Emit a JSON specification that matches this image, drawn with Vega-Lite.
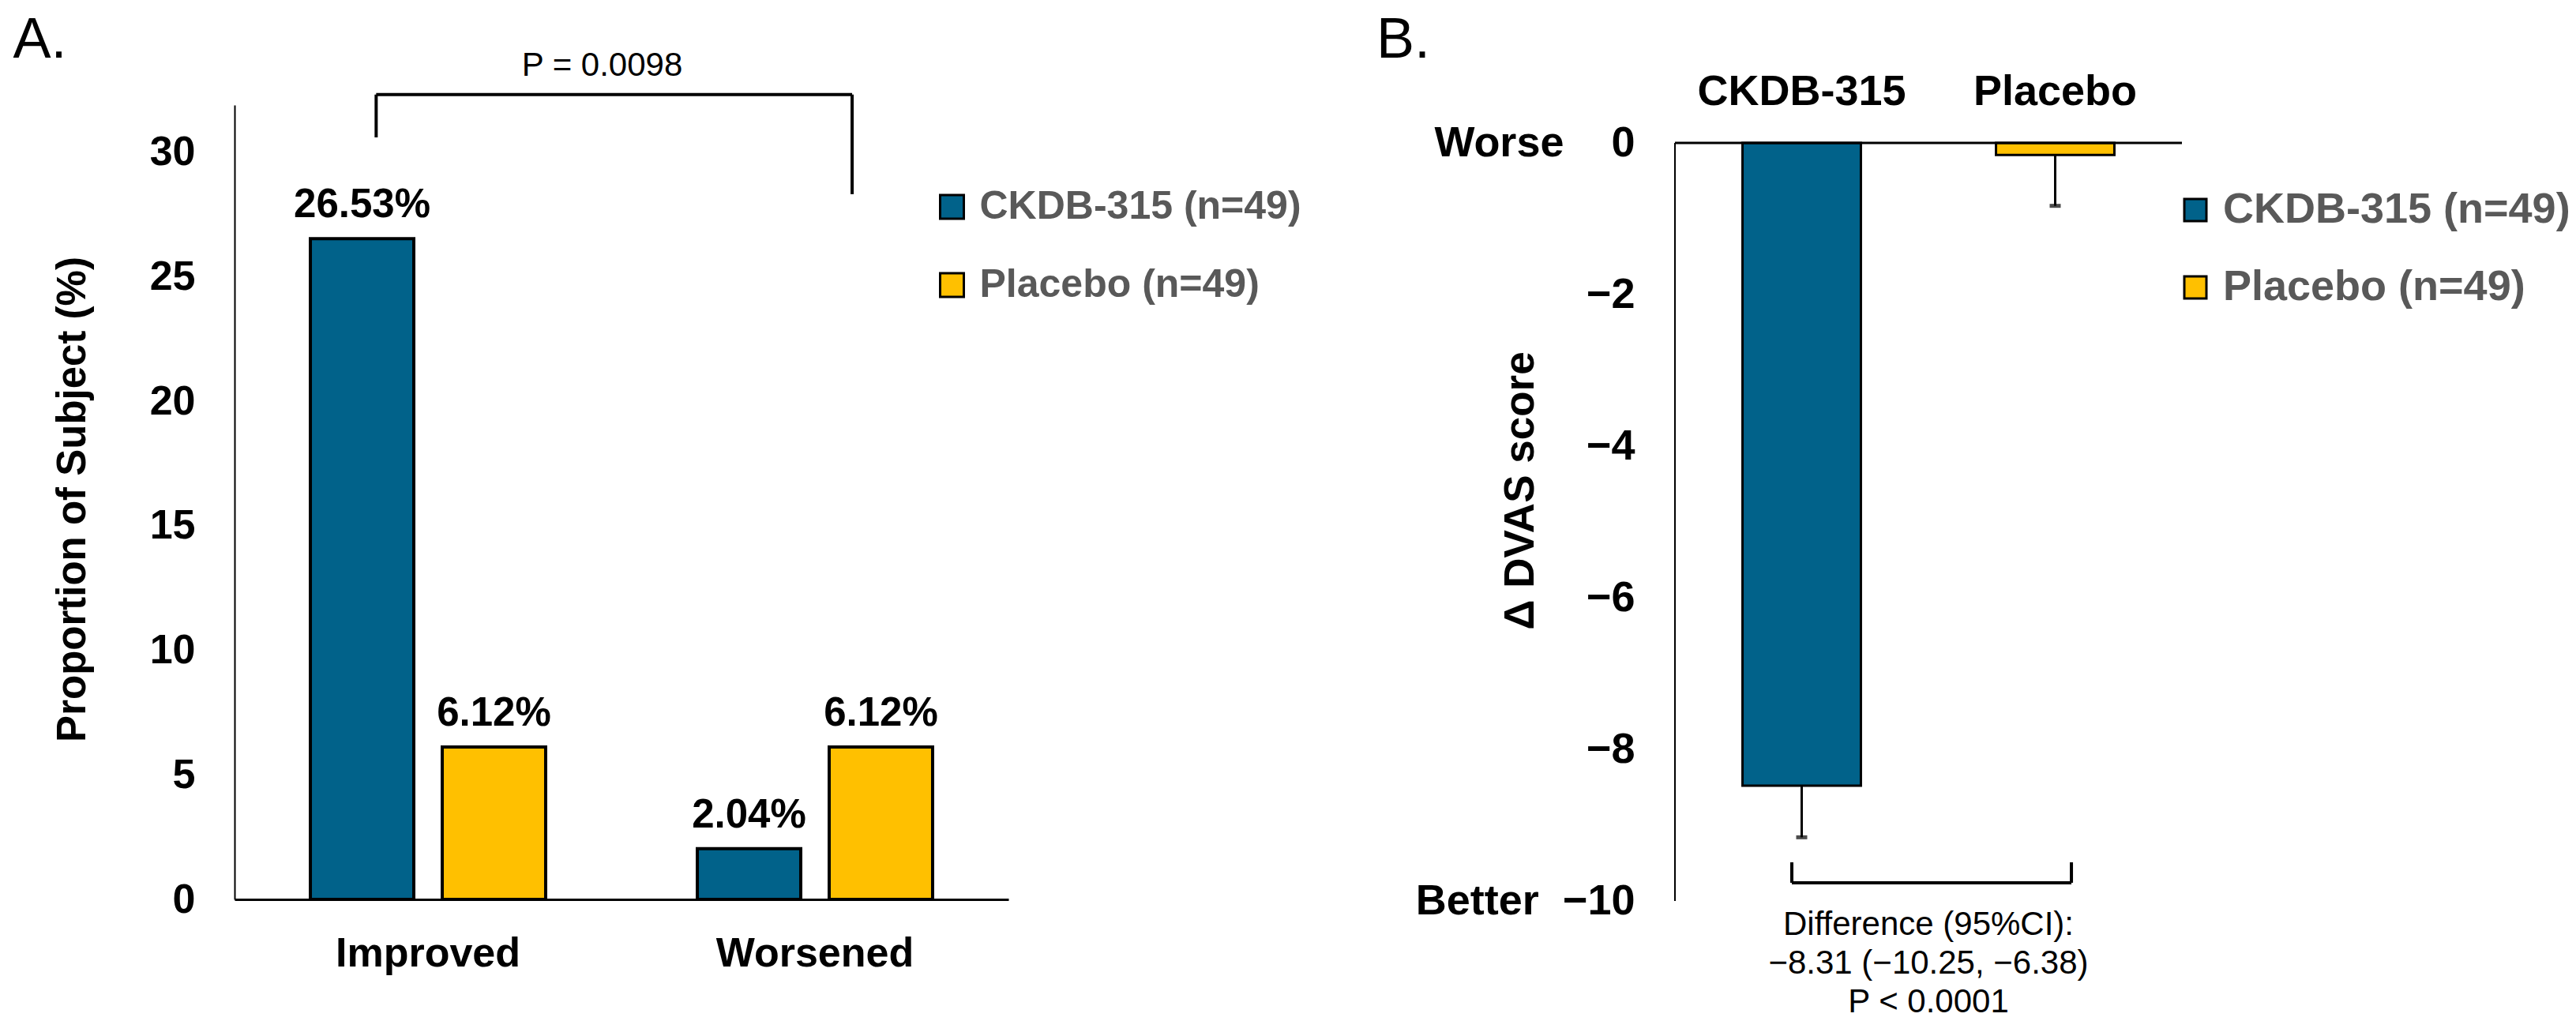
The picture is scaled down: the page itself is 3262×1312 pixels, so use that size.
{
  "$schema": "https://vega.github.io/schema/vega-lite/v6.json",
  "background": "white",
  "padding": {"left": 16, "top": 14, "right": 0, "bottom": 0},
  "config": {
    "font": "Liberation Sans",
    "view": {"stroke": null},
    "axis": {"grid": false, "ticks": false, "tickSize": 0, "labelLimit": 2000, "domainColor": "black", "labelColor": "black", "titleColor": "black", "labelFont": "Liberation Sans", "titleFont": "Liberation Sans", "labelFontWeight": "bold", "titleFontWeight": "bold"},
    "legend": {"labelLimit": 2000},
    "text": {"font": "Liberation Sans", "color": "black"}
  },
  "datasets": {
    "responders": [
      {"outcome": "Improved", "group": "CKDB-315", "pct": 26.53, "label": "26.53%"},
      {"outcome": "Improved", "group": "Placebo", "pct": 6.12, "label": "6.12%"},
      {"outcome": "Worsened", "group": "CKDB-315", "pct": 2.04, "label": "2.04%"},
      {"outcome": "Worsened", "group": "Placebo", "pct": 6.12, "label": "6.12%"}
    ],
    "dvas": [
      {"group": "CKDB-315", "mean": -8.48, "lower": -9.16},
      {"group": "Placebo", "mean": -0.16, "lower": -0.83}
    ]
  },
  "spacing": 93,
  "resolve": {"scale": {"fill": "independent"}, "legend": {"fill": "independent"}},
  "hconcat": [
    {
      "width": 980,
      "height": 1006,
      "resolve": {"scale": {"x": "independent"}},
      "layer": [
        {
          "data": {"name": "responders"},
          "encoding": {
            "x": {"field": "outcome", "type": "nominal", "sort": ["Improved", "Worsened"], "scale": {"paddingInner": 0, "paddingOuter": 0},
              "axis": {"title": null, "labelAngle": 0, "labelFontSize": 52, "labelPadding": 84, "labelBaseline": "alphabetic", "domainWidth": 3}},
            "xOffset": {"field": "group", "type": "nominal", "sort": ["CKDB-315", "Placebo"], "scale": {"paddingInner": 0.2156, "paddingOuter": 0.575}},
            "y": {"field": "pct", "type": "quantitative", "scale": {"domain": [0, 31.9], "nice": false},
              "axis": {"title": "Proportion of Subject (%)", "values": [0, 5, 10, 15, 20, 25, 30], "labelFontSize": 52, "labelPadding": 50, "domainWidth": 2, "titleFontSize": 51, "titleX": -189.5, "titleY": 499, "titleAngle": 270, "titleBaseline": "alphabetic", "titleAlign": "center"}}
          },
          "layer": [
            {
              "mark": {"type": "bar", "stroke": "black", "strokeWidth": 4},
              "encoding": {
                "fill": {"field": "group", "type": "nominal", "scale": {"domain": ["CKDB-315", "Placebo"], "range": ["#01628A", "#FFC000"]},
                  "legend": {"title": null, "orient": "none", "legendX": 883.5, "legendY": 104, "direction": "vertical", "symbolType": "square", "symbolSize": 900, "symbolStrokeColor": "black", "symbolStrokeWidth": 3, "labelFontSize": 50, "labelFontWeight": "bold", "labelColor": "#595959", "labelFont": "Liberation Sans", "labelOffset": 10, "labelLimit": 2000, "rowPadding": 49, "padding": 0, "labelExpr": "datum.label + ' (n=49)'",
                    "encode": {"symbols": {"update": {"stroke": {"value": "black"}, "strokeWidth": {"value": 3}}}}}
                }
              }
            },
            {
              "mark": {"type": "text", "baseline": "alphabetic", "align": "center", "dy": -27, "fontSize": 51, "fontWeight": "bold"},
              "encoding": {"text": {"field": "label"}}
            }
          ]
        },
        {
          "data": {"values": [{}]},
          "layer": [
            {
              "mark": {"type": "rule", "color": "black", "strokeWidth": 4},
              "encoding": {
                "x": {"datum": 0.183, "type": "quantitative", "scale": {"domain": [0, 1], "nice": false}, "axis": null},
                "y": {"datum": 30.6, "type": "quantitative", "scale": {"domain": [0, 31.9], "nice": false}},
                "y2": {"datum": 32.32}
              }
            },
            {
              "mark": {"type": "rule", "color": "black", "strokeWidth": 4},
              "encoding": {
                "x": {"datum": 0.798, "type": "quantitative", "scale": {"domain": [0, 1], "nice": false}, "axis": null},
                "y": {"datum": 28.32, "type": "quantitative", "scale": {"domain": [0, 31.9], "nice": false}},
                "y2": {"datum": 32.32}
              }
            },
            {
              "mark": {"type": "rule", "color": "black", "strokeWidth": 4},
              "encoding": {
                "x": {"datum": 0.183, "type": "quantitative", "scale": {"domain": [0, 1], "nice": false}, "axis": null},
                "x2": {"datum": 0.798},
                "y": {"datum": 32.32, "type": "quantitative", "scale": {"domain": [0, 31.9], "nice": false}}
              }
            },
            {
              "mark": {"type": "text", "text": "P = 0.0098", "fontSize": 42, "align": "center", "baseline": "alphabetic"},
              "encoding": {
                "x": {"datum": 0.475, "type": "quantitative", "scale": {"domain": [0, 1], "nice": false}, "axis": null},
                "y": {"datum": 33.08, "type": "quantitative", "scale": {"domain": [0, 31.9], "nice": false}}
              }
            },
            {
              "mark": {"type": "text", "text": "A.", "fontSize": 72, "align": "left", "baseline": "alphabetic"},
              "encoding": {
                "x": {"datum": -0.2862, "type": "quantitative", "scale": {"domain": [0, 1], "nice": false}, "axis": null},
                "y": {"datum": 33.81, "type": "quantitative", "scale": {"domain": [0, 31.9], "nice": false}}
              }
            }
          ]
        }
      ]
    },
    {
      "width": 642,
      "height": 1008,
      "resolve": {"scale": {"x": "independent"}},
      "layer": [
        {
          "data": {"name": "dvas"},
          "encoding": {
            "x": {"field": "group", "type": "nominal", "sort": ["CKDB-315", "Placebo"], "scale": {"paddingInner": 0.533, "paddingOuter": 0.2665},
              "axis": {"orient": "top", "title": null, "domain": false, "labelAngle": 0, "labelFontSize": 54, "labelPadding": 1, "labelBaseline": "alphabetic"}}
          },
          "layer": [
            {
              "mark": {"type": "bar", "stroke": "black", "strokeWidth": 3},
              "encoding": {
                "y": {"field": "mean", "type": "quantitative", "scale": {"domain": [-10, 0.5], "nice": false, "zero": false},
                  "axis": {"title": "Δ DVAS score", "domain": false, "values": [0, -2, -4, -6, -8, -10], "format": "d", "labelExpr": "datum.value == 0 ? 'Worse\u00a0\u00a0\u00a0\u00a00' : (datum.value == -10 ? 'Better\u00a0\u00a0\u221210' : datum.label)", "labelFontSize": 54, "labelPadding": 51, "titleFontSize": 53, "titleX": -180, "titleY": 488, "titleAngle": 270, "titleBaseline": "alphabetic", "titleAlign": "center"}},
                "y2": {"datum": 0},
                "fill": {"field": "group", "type": "nominal", "scale": {"domain": ["CKDB-315", "Placebo"], "range": ["#01628A", "#FFC000"]},
                  "legend": {"title": null, "orient": "none", "legendX": 632, "legendY": 106, "direction": "vertical", "symbolType": "square", "symbolSize": 784, "symbolStrokeColor": "black", "symbolStrokeWidth": 3, "labelFontSize": 54, "labelFontWeight": "bold", "labelColor": "#595959", "labelFont": "Liberation Sans", "labelOffset": 8, "labelLimit": 2000, "rowPadding": 44, "padding": 0, "labelExpr": "datum.label + ' (n=49)'",
                    "encode": {"symbols": {"update": {"stroke": {"value": "black"}, "strokeWidth": {"value": 3}}}}}
                }
              }
            },
            {
              "mark": {"type": "rule", "color": "black", "strokeWidth": 3},
              "encoding": {
                "y": {"field": "lower", "type": "quantitative", "scale": {"domain": [-10, 0.5], "nice": false, "zero": false}},
                "y2": {"field": "mean"}
              }
            },
            {
              "mark": {"type": "tick", "color": "black", "size": 14, "thickness": 5},
              "encoding": {
                "y": {"field": "lower", "type": "quantitative", "scale": {"domain": [-10, 0.5], "nice": false, "zero": false}}
              }
            }
          ]
        },
        {
          "data": {"values": [{}]},
          "layer": [
            {
              "mark": {"type": "rule", "color": "black", "strokeWidth": 3},
              "encoding": {
                "x": {"datum": 0, "type": "quantitative", "scale": {"domain": [0, 1], "nice": false}, "axis": null},
                "x2": {"datum": 1},
                "y": {"datum": 0, "type": "quantitative", "scale": {"domain": [-10, 0.5], "nice": false, "zero": false}}
              }
            },
            {
              "mark": {"type": "rule", "color": "black", "strokeWidth": 2},
              "encoding": {
                "x": {"datum": 0, "type": "quantitative", "scale": {"domain": [0, 1], "nice": false}, "axis": null},
                "y": {"datum": -10, "type": "quantitative", "scale": {"domain": [-10, 0.5], "nice": false, "zero": false}},
                "y2": {"datum": 0}
              }
            },
            {
              "mark": {"type": "rule", "color": "black", "strokeWidth": 4},
              "encoding": {
                "x": {"datum": 0.2305, "type": "quantitative", "scale": {"domain": [0, 1], "nice": false}, "axis": null},
                "y": {"datum": -9.49, "type": "quantitative", "scale": {"domain": [-10, 0.5], "nice": false, "zero": false}},
                "y2": {"datum": -9.76}
              }
            },
            {
              "mark": {"type": "rule", "color": "black", "strokeWidth": 4},
              "encoding": {
                "x": {"datum": 0.782, "type": "quantitative", "scale": {"domain": [0, 1], "nice": false}, "axis": null},
                "y": {"datum": -9.49, "type": "quantitative", "scale": {"domain": [-10, 0.5], "nice": false, "zero": false}},
                "y2": {"datum": -9.76}
              }
            },
            {
              "mark": {"type": "rule", "color": "black", "strokeWidth": 4},
              "encoding": {
                "x": {"datum": 0.2305, "type": "quantitative", "scale": {"domain": [0, 1], "nice": false}, "axis": null},
                "x2": {"datum": 0.782},
                "y": {"datum": -9.76, "type": "quantitative", "scale": {"domain": [-10, 0.5], "nice": false, "zero": false}}
              }
            },
            {
              "mark": {"type": "text", "text": ["Difference (95%CI):", "\u22128.31 (\u221210.25, \u22126.38)", "P < 0.0001"], "lineHeight": 49, "fontSize": 42, "align": "center", "baseline": "alphabetic"},
              "encoding": {
                "x": {"datum": 0.5, "type": "quantitative", "scale": {"domain": [0, 1], "nice": false}, "axis": null},
                "y": {"datum": -10.45, "type": "quantitative", "scale": {"domain": [-10, 0.5], "nice": false, "zero": false}}
              }
            },
            {
              "mark": {"type": "text", "text": "B.", "fontSize": 72, "align": "left", "baseline": "alphabetic"},
              "encoding": {
                "x": {"datum": -0.5888, "type": "quantitative", "scale": {"domain": [0, 1], "nice": false}, "axis": null},
                "y": {"datum": 1.125, "type": "quantitative", "scale": {"domain": [-10, 0.5], "nice": false, "zero": false}}
              }
            }
          ]
        }
      ]
    }
  ]
}
